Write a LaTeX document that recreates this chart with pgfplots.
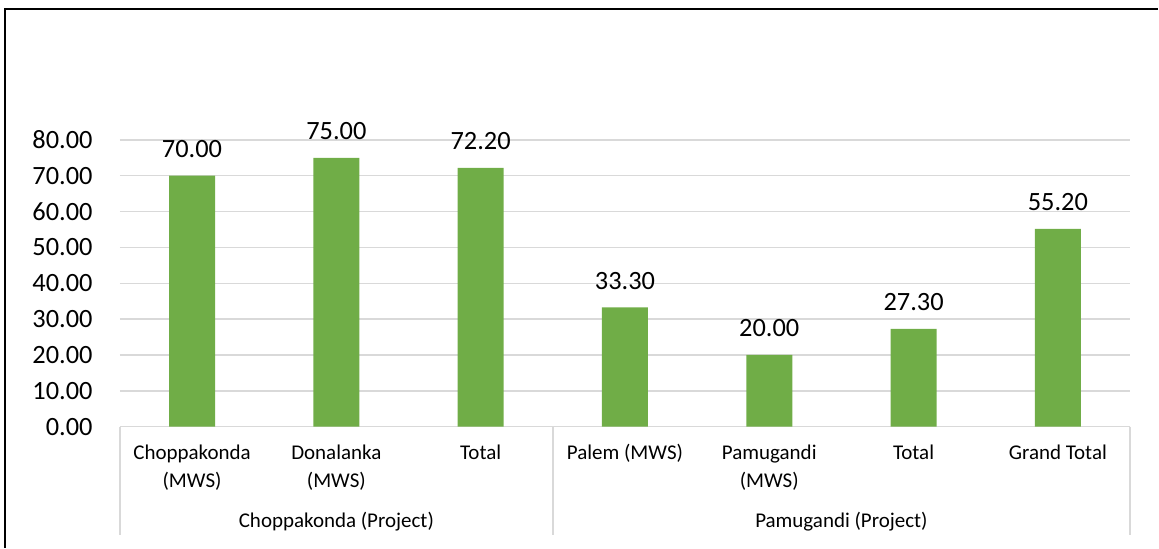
\documentclass[border=0pt]{standalone}
\usepackage{pgfplots}
\pgfplotsset{compat=1.18}
\usepackage{fontspec}
\setmainfont{Carlito}
\definecolor{bargreen}{HTML}{70AD47}
\definecolor{gridgray}{HTML}{D9D9D9}
\newcommand\numfont{\fontsize{13.2}{15}\selectfont}
\newcommand\catfont{\fontsize{10.5}{13}\selectfont}

\begin{document}
\begin{tikzpicture}
% page area and the frame at left and top
\path (-60pt,-60.5pt) rectangle (519.5pt,213.5pt);
\draw[line width=1pt, black] (-57.5pt,-60.5pt) -- (-57.5pt,209pt) -- (519.5pt,209pt);
\begin{axis}[
    at={(0,0)}, anchor=south west,
    scale only axis,
    width=505.5pt, height=143.5pt,
    xmin=-0.5, xmax=6.5,
    ymin=0, ymax=80,
    ytick={0,10,...,80},
    xtick=\empty,
    ymajorgrids,
    grid style={gridgray, line width=0.75pt},
    separate axis lines,
    axis x line*=bottom, axis y line*=left,
    y axis line style={draw=none},
    x axis line style={gridgray, line width=0.75pt},
    tick style={draw=none},
    yticklabel={\pgfmathprintnumber[fixed,fixed zerofill,precision=2,assume math mode=true]{\tick}},
    yticklabel style={font=\numfont, inner sep=0pt, xshift=-13.5pt},
    clip=false,
    ]
\addplot[ybar, bar width=23pt, fill=bargreen, draw=none,
    nodes near coords={\pgfmathprintnumber[fixed,fixed zerofill,precision=2,assume math mode=true]{\pgfplotspointmeta}},
    every node near coord/.append style={font=\numfont, anchor=base, inner sep=0pt, yshift=9pt, black}]
    coordinates {(0,70) (1,75) (2,72.2) (3,33.3) (4,20) (5,27.3) (6,55.2)};

% category separators
\draw[gridgray, line width=0.75pt] (axis cs:-0.5,0) -- ([yshift=-54pt]axis cs:-0.5,0);
\draw[gridgray, line width=0.75pt] (axis cs:2.5,0) -- ([yshift=-54pt]axis cs:2.5,0);
\draw[gridgray, line width=0.75pt] (axis cs:6.5,0) -- ([yshift=-54pt]axis cs:6.5,0);

% category labels
\begin{scope}[every node/.style={font=\catfont, anchor=base, inner sep=0pt}]
\node at ([yshift=-16.5pt]axis cs:0,0) {Choppakonda};
\node at ([yshift=-30.5pt]axis cs:0,0) {(MWS)};
\node at ([yshift=-16.5pt]axis cs:1,0) {Donalanka};
\node at ([yshift=-30.5pt]axis cs:1,0) {(MWS)};
\node at ([yshift=-16.5pt]axis cs:2,0) {Total};
\node at ([yshift=-16.5pt]axis cs:3,0) {Palem (MWS)};
\node at ([yshift=-16.5pt]axis cs:4,0) {Pamugandi};
\node at ([yshift=-30.5pt]axis cs:4,0) {(MWS)};
\node at ([yshift=-16.5pt]axis cs:5,0) {Total};
\node at ([yshift=-16.5pt]axis cs:6,0) {Grand Total};
\node at ([yshift=-50.5pt]axis cs:1,0) {Choppakonda (Project)};
\node at ([yshift=-50.5pt]axis cs:4.5,0) {Pamugandi (Project)};
\end{scope}
\end{axis}
\end{tikzpicture}
\end{document}
